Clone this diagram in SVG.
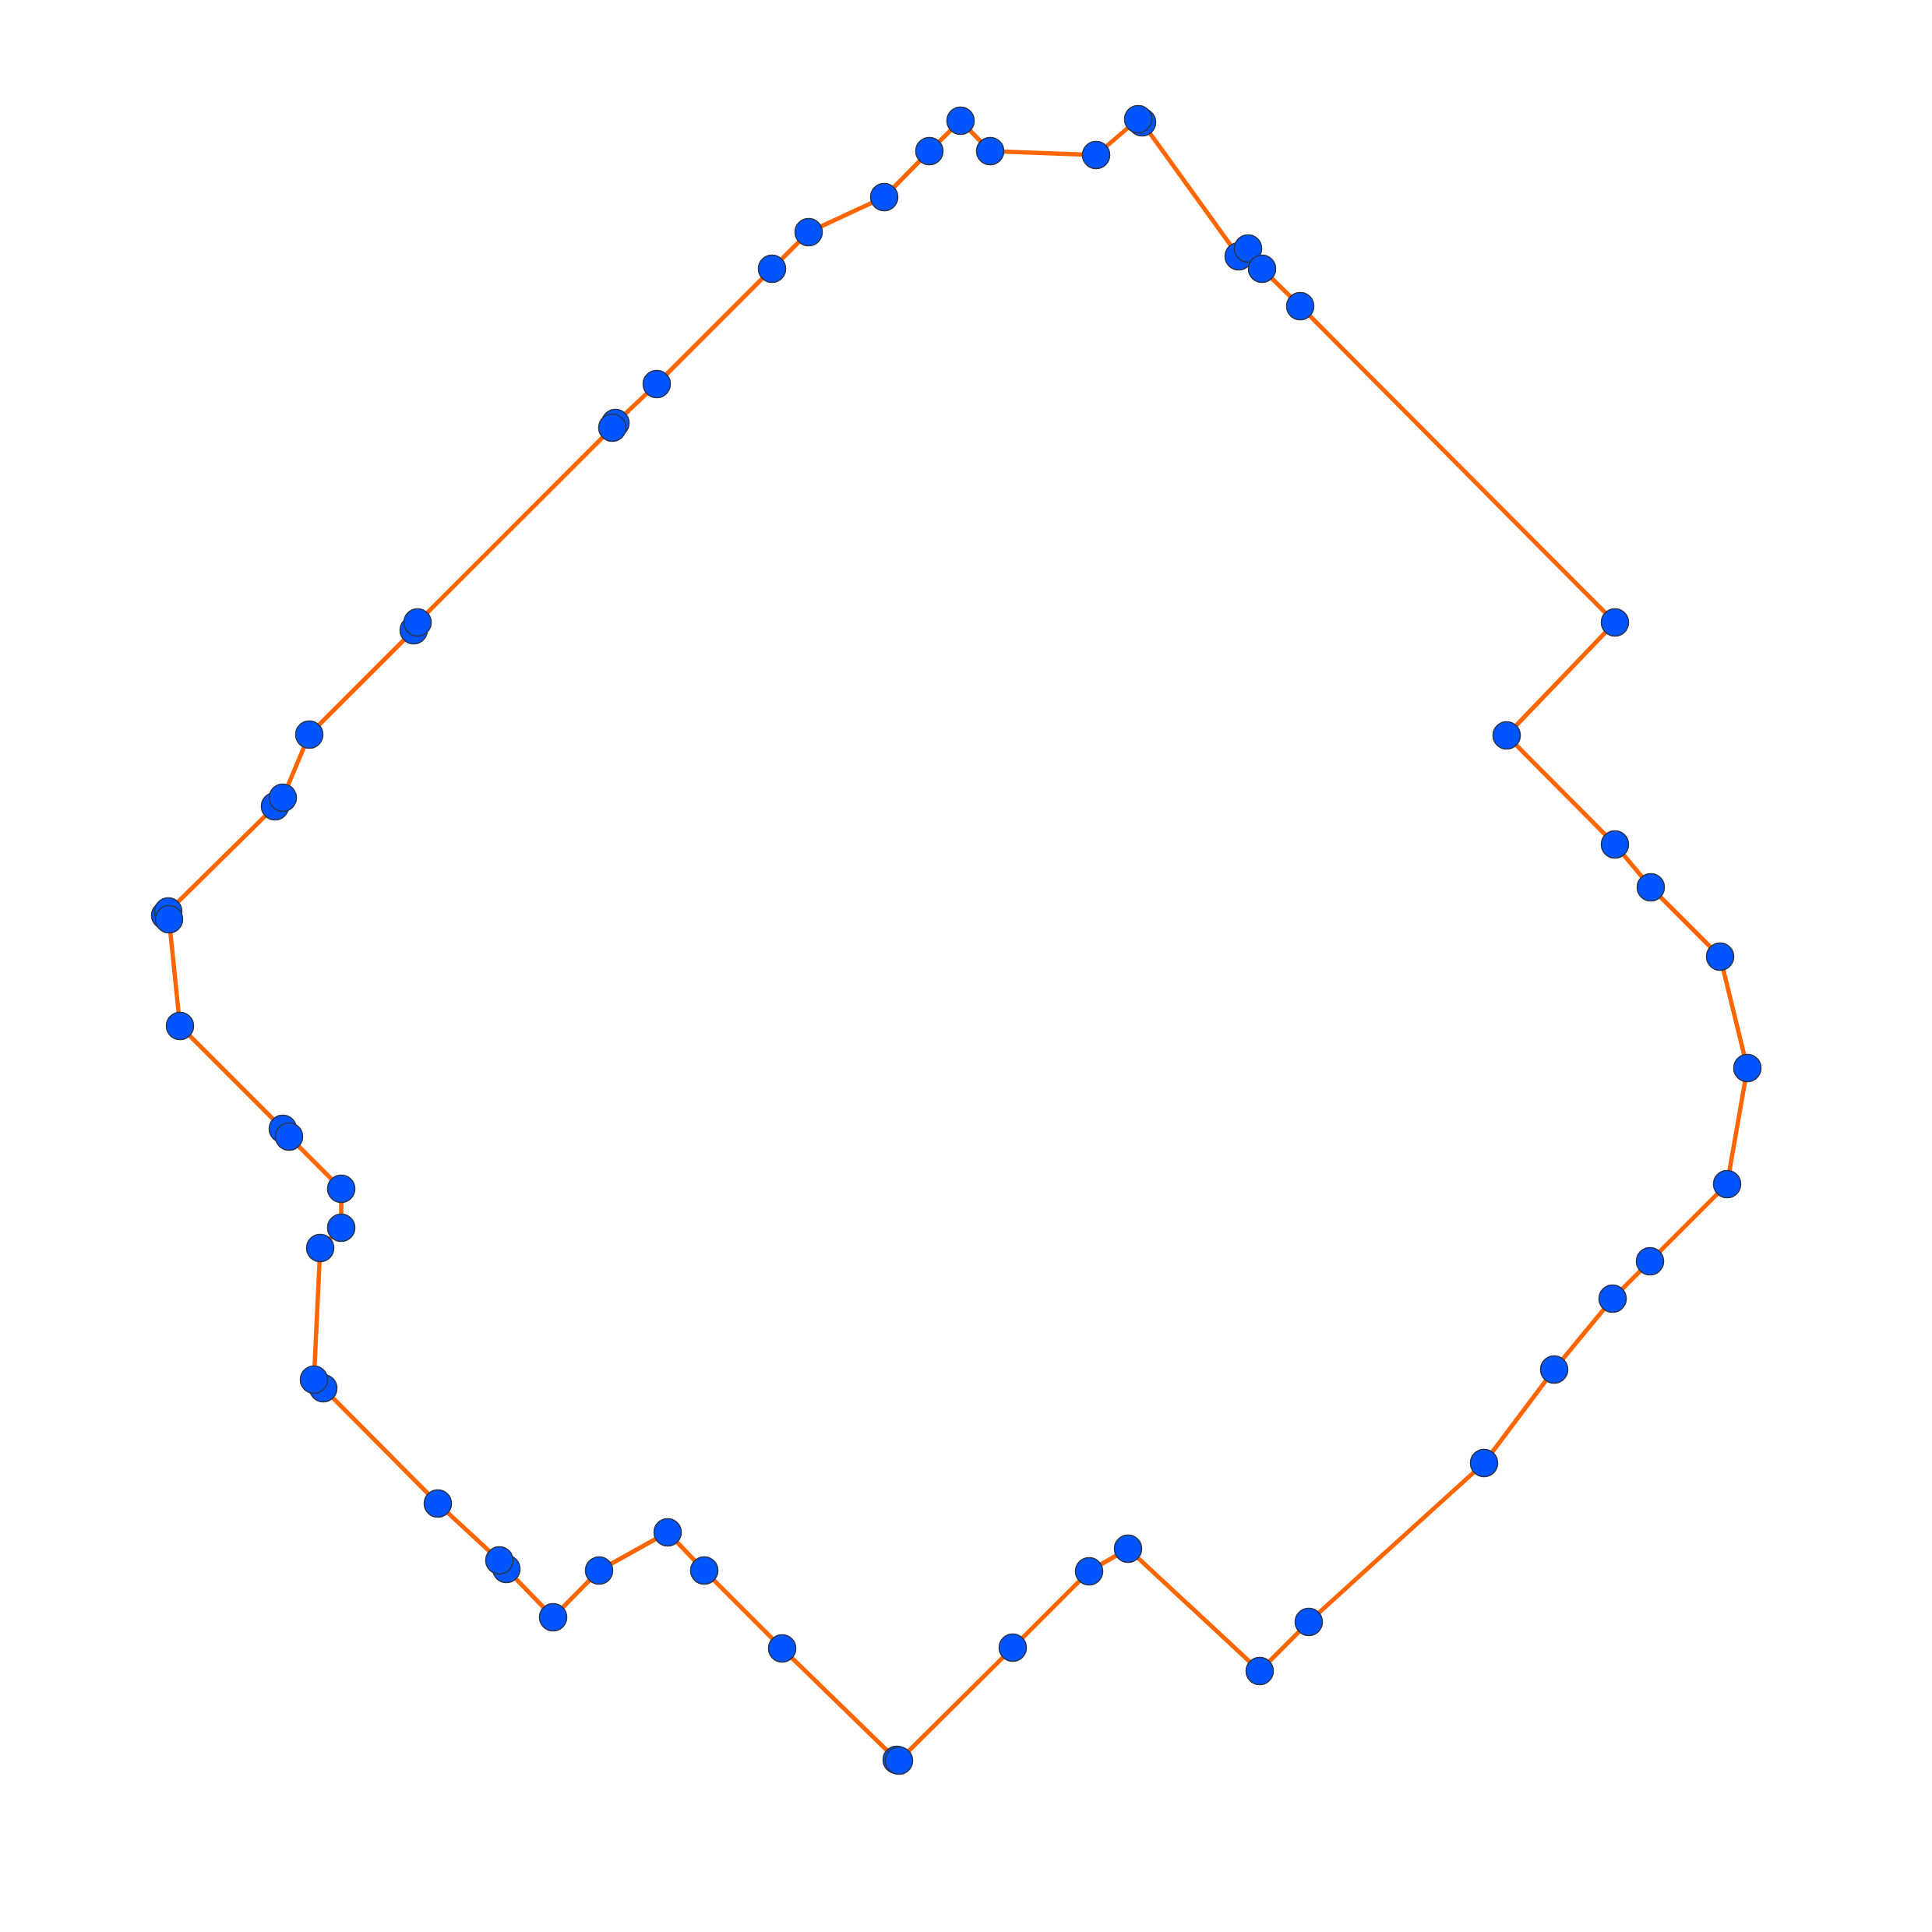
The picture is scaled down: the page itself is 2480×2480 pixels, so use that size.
<svg xmlns="http://www.w3.org/2000/svg" width="2480" height="2480" viewBox="0 0 2480 2480">
<style>
.e{stroke:#ff6600;stroke-width:5.5;fill:none;stroke-linejoin:round}
.n{fill:#0055ff;stroke:#2a3550;stroke-width:1.5}
</style>
<rect width="2480" height="2480" fill="#ffffff"/>
<g id="connectors">
<polygon class="e" points="1233,155 1271,194 1407,199 1461,153 1466,157 1590,329 1602,319 1620,345 1669,393 2073,799 1934,944 2073,1084 2119,1139 2208,1228 2243,1371 2217,1520 2118,1619 2070,1667 1995,1758 1905,1878 1680,2082 1617,2145 1448,1988 1398,2017 1300,2115 1154,2260 1151,2259 1004,2116 904,2016 857,1967 769,2016 710,2076 650,2014 641,2003 562,1930 415,1782 403,1771 411,1602 438,1576 438,1526 371,1459 363,1449 231,1317 217,1180 212,1175 216,1170 353,1035 363,1024 397,943 531,809 536,799 786,549 790,543 843,493 991,345 1038,298 1135,253 1193,194"/>
</g>
<g id="nodes">
<g id="n1"><circle class="n" cx="1233" cy="155" r="17.5"/></g>
<g id="n2"><circle class="n" cx="1271" cy="194" r="17.5"/></g>
<g id="n3"><circle class="n" cx="1407" cy="199" r="17.5"/></g>
<g id="n4"><circle class="n" cx="1466" cy="157" r="17.5"/></g>
<g id="n5"><circle class="n" cx="1461" cy="153" r="17.5"/></g>
<g id="n6"><circle class="n" cx="1590" cy="329" r="17.5"/></g>
<g id="n7"><circle class="n" cx="1602" cy="319" r="17.5"/></g>
<g id="n8"><circle class="n" cx="1620" cy="345" r="17.5"/></g>
<g id="n9"><circle class="n" cx="1669" cy="393" r="17.5"/></g>
<g id="n10"><circle class="n" cx="2073" cy="799" r="17.5"/></g>
<g id="n11"><circle class="n" cx="1934" cy="944" r="17.5"/></g>
<g id="n12"><circle class="n" cx="2073" cy="1084" r="17.5"/></g>
<g id="n13"><circle class="n" cx="2119" cy="1139" r="17.5"/></g>
<g id="n14"><circle class="n" cx="2208" cy="1228" r="17.5"/></g>
<g id="n15"><circle class="n" cx="2243" cy="1371" r="17.5"/></g>
<g id="n16"><circle class="n" cx="2217" cy="1520" r="17.5"/></g>
<g id="n17"><circle class="n" cx="2118" cy="1619" r="17.5"/></g>
<g id="n18"><circle class="n" cx="2070" cy="1667" r="17.5"/></g>
<g id="n19"><circle class="n" cx="1995" cy="1758" r="17.5"/></g>
<g id="n20"><circle class="n" cx="1905" cy="1878" r="17.5"/></g>
<g id="n21"><circle class="n" cx="1680" cy="2082" r="17.5"/></g>
<g id="n22"><circle class="n" cx="1617" cy="2145" r="17.5"/></g>
<g id="n23"><circle class="n" cx="1448" cy="1988" r="17.5"/></g>
<g id="n24"><circle class="n" cx="1398" cy="2017" r="17.5"/></g>
<g id="n25"><circle class="n" cx="1300" cy="2115" r="17.5"/></g>
<g id="n26"><circle class="n" cx="1151" cy="2259" r="17.5"/></g>
<g id="n27"><circle class="n" cx="1154" cy="2260" r="17.5"/></g>
<g id="n28"><circle class="n" cx="1004" cy="2116" r="17.5"/></g>
<g id="n29"><circle class="n" cx="904" cy="2016" r="17.5"/></g>
<g id="n30"><circle class="n" cx="857" cy="1967" r="17.5"/></g>
<g id="n31"><circle class="n" cx="769" cy="2016" r="17.5"/></g>
<g id="n32"><circle class="n" cx="710" cy="2076" r="17.5"/></g>
<g id="n33"><circle class="n" cx="650" cy="2014" r="17.5"/></g>
<g id="n34"><circle class="n" cx="641" cy="2003" r="17.5"/></g>
<g id="n35"><circle class="n" cx="562" cy="1930" r="17.5"/></g>
<g id="n36"><circle class="n" cx="415" cy="1782" r="17.5"/></g>
<g id="n37"><circle class="n" cx="403" cy="1771" r="17.5"/></g>
<g id="n38"><circle class="n" cx="411" cy="1602" r="17.5"/></g>
<g id="n39"><circle class="n" cx="438" cy="1576" r="17.5"/></g>
<g id="n40"><circle class="n" cx="438" cy="1526" r="17.5"/></g>
<g id="n41"><circle class="n" cx="363" cy="1449" r="17.5"/></g>
<g id="n42"><circle class="n" cx="371" cy="1459" r="17.5"/></g>
<g id="n43"><circle class="n" cx="231" cy="1317" r="17.5"/></g>
<g id="n44"><circle class="n" cx="212" cy="1175" r="17.5"/></g>
<g id="n45"><circle class="n" cx="216" cy="1170" r="17.5"/></g>
<g id="n46"><circle class="n" cx="217" cy="1180" r="17.5"/></g>
<g id="n47"><circle class="n" cx="353" cy="1035" r="17.5"/></g>
<g id="n48"><circle class="n" cx="363" cy="1024" r="17.5"/></g>
<g id="n49"><circle class="n" cx="397" cy="943" r="17.5"/></g>
<g id="n50"><circle class="n" cx="531" cy="809" r="17.5"/></g>
<g id="n51"><circle class="n" cx="536" cy="799" r="17.5"/></g>
<g id="n52"><circle class="n" cx="790" cy="543" r="17.5"/></g>
<g id="n53"><circle class="n" cx="786" cy="549" r="17.5"/></g>
<g id="n54"><circle class="n" cx="843" cy="493" r="17.5"/></g>
<g id="n55"><circle class="n" cx="991" cy="345" r="17.5"/></g>
<g id="n56"><circle class="n" cx="1038" cy="298" r="17.5"/></g>
<g id="n57"><circle class="n" cx="1135" cy="253" r="17.5"/></g>
<g id="n58"><circle class="n" cx="1193" cy="194" r="17.5"/></g>
</g>
</svg>
